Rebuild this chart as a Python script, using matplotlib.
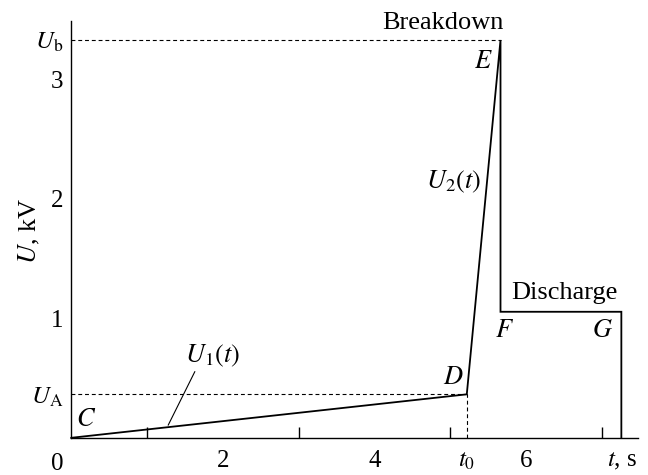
import matplotlib
matplotlib.use("Agg")
import matplotlib.pyplot as plt
from matplotlib.ticker import FixedLocator, NullFormatter

plt.rcParams['font.family'] = ['Liberation Serif', 'DejaVu Serif']
plt.rcParams['mathtext.fontset'] = 'stix'

# ---- data ----
t_points = [0.0, 5.22, 5.665, 5.665, 7.26, 7.26]   # C, D, E, E->F, G, G->0
u_points = [0.0, 0.364, 3.33, 1.055, 1.055, 0.0]
t0 = 5.22
U_A = 0.364
U_b = 3.33
t_E = 5.665
x_minor_ticks = [1, 2, 3, 4, 5, 6, 7]
x_label_pos = [2, 4, t0, 6, 7.27]
x_labels = ['2', '4', '$t_0$', '6', '$t$, s']
y_minor_ticks = [1, 2, 3]
y_label_pos = [U_A, 1, 2, 3, U_b]
y_labels = ['$U_\\mathrm{A}$', '1', '2', '3', '$U_\\mathrm{b}$']

fig = plt.figure(figsize=(6.48, 4.75), dpi=100)
ax = fig.add_axes([0.110, 0.0783, 0.8746, 0.8777])

ax.set_xlim(0, 7.48)
ax.set_ylim(0, 3.49)

# main curve
ax.plot(t_points, u_points, color='black', lw=1.3, solid_joinstyle='miter', clip_on=False, zorder=3)

# dashed guides
ds = (0, (3.5, 2.6))
ax.plot([0, t_E], [U_b, U_b], color='black', lw=0.8, linestyle=ds)
ax.plot([0, t0], [U_A, U_A], color='black', lw=0.8, linestyle=ds)
ax.plot([t0, t0], [0, U_A], color='black', lw=0.8, linestyle=ds)

# leader line for U1(t)
ax.plot([1.63, 1.28], [0.553, 0.107], color='black', lw=0.8)

# spines
for s in ['top', 'right']:
    ax.spines[s].set_visible(False)
for s in ['left', 'bottom']:
    ax.spines[s].set_linewidth(1.0)

# ticks
ax.xaxis.set_major_locator(FixedLocator(x_label_pos))
ax.set_xticklabels(x_labels)
ax.xaxis.set_minor_locator(FixedLocator(x_minor_ticks))
ax.xaxis.set_minor_formatter(NullFormatter())
ax.yaxis.set_major_locator(FixedLocator(y_label_pos))
ax.set_yticklabels(y_labels)
ax.yaxis.set_minor_locator(FixedLocator(y_minor_ticks))
ax.yaxis.set_minor_formatter(NullFormatter())
ax.tick_params(which='major', length=0, labelsize=18)
ax.tick_params(axis='x', which='major', pad=9)
ax.tick_params(axis='y', which='major', pad=6)
ax.tick_params(which='minor', direction='in', length=8, width=1.0)

ax.text(-0.19, -0.22, '0', fontsize=18, ha='center', va='center', clip_on=False)

ax.set_ylabel('$U$, kV', fontsize=19)
ax.yaxis.set_label_coords(-0.052, 0.496)

fs = 19
ax.text(0.19, 0.15, '$C$', fontsize=fs, ha='center', va='center')
ax.text(5.04, 0.50, '$D$', fontsize=fs, ha='center', va='center')
ax.text(5.44, 3.15, '$E$', fontsize=fs, ha='center', va='center')
ax.text(5.72, 0.89, '$F$', fontsize=fs, ha='center', va='center')
ax.text(7.01, 0.89, '$G$', fontsize=fs, ha='center', va='center')
ax.text(6.51, 1.21, 'Discharge', fontsize=fs, ha='center', va='center')
ax.text(5.71, 3.42, 'Breakdown', fontsize=fs, ha='right', va='baseline', clip_on=False)
ax.text(5.05, 2.14, '$U_2(t)$', fontsize=fs, ha='center', va='center')
ax.text(1.86, 0.69, '$U_1(t)$', fontsize=fs, ha='center', va='center')

fig.savefig('out.png', dpi=100)
